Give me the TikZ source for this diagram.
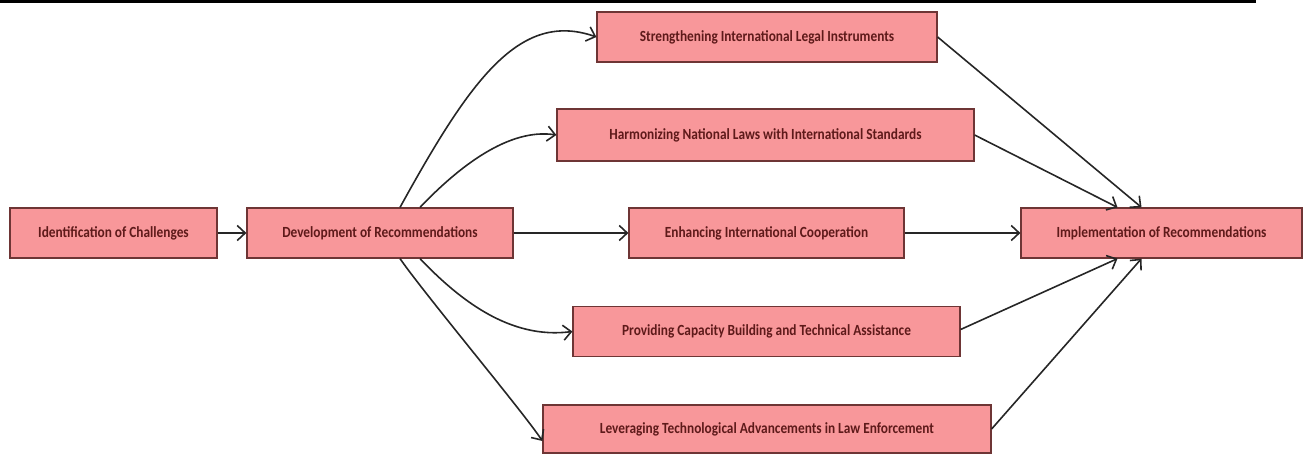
\documentclass[tikz,border=0pt]{standalone}
\usepackage{fontspec}
\setmainfont{Carlito}[FakeStretch=0.86]
\usetikzlibrary{positioning,arrows.meta}
\definecolor{boxfill}{HTML}{F8979A}
\definecolor{boxline}{HTML}{6E3535}
\definecolor{boxtext}{HTML}{5E1A1A}

\begin{document}
\begin{tikzpicture}[x=1pt, y=-1pt,
    stage/.style={draw=boxline, line width=1.2pt, fill=boxfill, minimum height=50pt, inner sep=0pt, text=boxtext, font=\fontsize{15.5}{17}\selectfont\bfseries},
    flow/.style={-{Straight Barb[length=8pt,width=15pt]}, line width=1.6pt, draw=black!85}]
    \useasboundingbox (0,0) rectangle (1303,454);
    \draw[line width=3pt] (0,1.5) -- (1256,1.5);

    \node[stage, minimum width=207pt] (ident) at (113.5,233) {Identification of Challenges};
    \node[stage, minimum width=266pt] (develop) at (380,233) {Development of Recommendations};

    \node[stage, minimum width=340pt] (legal) at (767,37) {Strengthening International Legal Instruments};
    \node[stage, minimum width=417pt, minimum height=52pt] (harmonize) at (765.5,135) {Harmonizing National Laws with International Standards};
    \node[stage, minimum width=275pt] (coop) at (766.5,233) {Enhancing International Cooperation};
    \node[stage, minimum width=387pt] (capacity) at (766.5,331.5) {Providing Capacity Building and Technical Assistance};
    \node[stage, minimum width=448pt, minimum height=48pt] (tech) at (767,429) {Leveraging Technological Advancements in Law Enforcement};

    \node[stage, minimum width=281pt] (implement) at (1161.5,233) {Implementation of Recommendations};

    \draw[flow] (ident) -- (develop);
    \draw[flow] ([xshift=20pt]develop.north) .. controls +(70,-127) and +(-77,-27) .. (legal.west);
    \draw[flow] ([xshift=40pt]develop.north) .. controls +(40,-42) and +(-47,-7) .. (harmonize.west);
    \draw[flow] (develop) -- (coop);
    \draw[flow] ([xshift=40pt]develop.south) .. controls +(40,42) and +(-62,8) .. (capacity.west);
    \draw[flow] ([xshift=20pt]develop.south) .. controls +(25,36) and +(-20,-30) .. ([yshift=-12pt]tech.west);

    \draw[flow] (legal.east) -- ([xshift=-20pt]implement.north);
    \draw[flow] (harmonize.east) -- ([xshift=-44pt]implement.north);
    \draw[flow] (coop) -- (implement);
    \draw[flow] ([yshift=2pt]capacity.east) -- ([xshift=-44pt]implement.south);
    \draw[flow] (tech.east) -- ([xshift=-20pt]implement.south);
\end{tikzpicture}
\end{document}
